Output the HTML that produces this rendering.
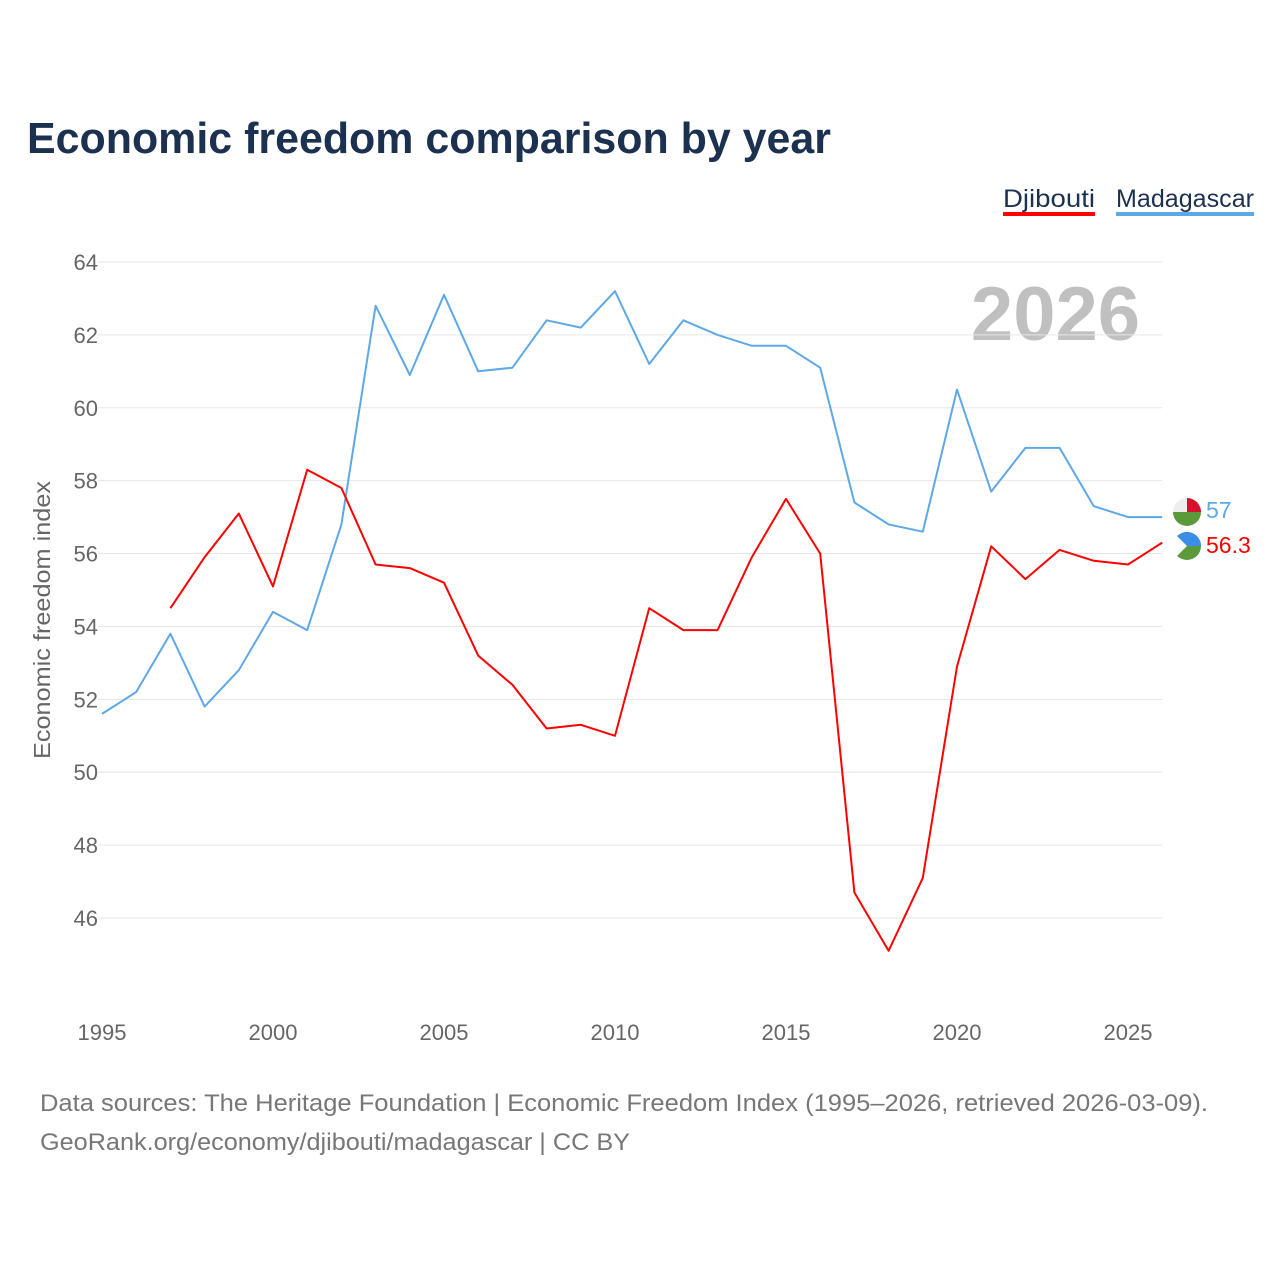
<!DOCTYPE html>
<html><head><meta charset="utf-8">
<style>
body{margin:0;background:#fff;font-family:"Liberation Sans",sans-serif;}
svg text{font-family:"Liberation Sans",sans-serif;}
</style></head>
<body>
<svg id="chart" width="1280" height="1280" viewBox="0 0 1280 1280" xmlns="http://www.w3.org/2000/svg">
<text x="27" y="153" font-size="44" font-weight="bold" fill="#1c3050" textLength="804" lengthAdjust="spacingAndGlyphs">Economic freedom comparison by year</text>
<g>
<text x="1003" y="207" font-size="25" fill="#1c3050" textLength="92" lengthAdjust="spacingAndGlyphs">Djibouti</text>
<rect x="1003" y="212" width="92" height="4" fill="#ff0000"/>
<text x="1116" y="207" font-size="25" fill="#1c3050" textLength="138" lengthAdjust="spacingAndGlyphs">Madagascar</text>
<rect x="1116" y="212" width="138" height="4" fill="#5fa8e8"/>
</g>
<text x="1140" y="340" font-size="76" font-weight="bold" fill="#c0c0c0" text-anchor="end">2026</text>
<g id="grid"></g>
<g id="xticks"></g>
<text transform="translate(50,620) rotate(-90)" font-size="23" fill="#666" text-anchor="middle" textLength="278" lengthAdjust="spacingAndGlyphs">Economic freedom index</text>
<g id="series"></g>
<g>
<circle cx="1187" cy="512" r="14" fill="#eee"/>
<path d="M1187 498 A14 14 0 0 1 1201 512 L1187 512Z" fill="#d6112e"/>
<path d="M1187 512 L1201 512 A14 14 0 0 1 1173 512Z" fill="#5a9a3a"/>
<circle cx="1187" cy="546" r="14" fill="#5a9a3a"/>
<path d="M1173 546 A14 14 0 0 1 1201 546Z" fill="#3a8ee6"/>
<path d="M1173 532 L1187 546 L1173 560Z" fill="#fff"/>
<text x="1206" y="518" font-size="23" fill="#5fa8e8">57</text>
<text x="1206" y="553" font-size="23" fill="#ff0000">56.3</text>
</g>
<text x="40" y="1111" font-size="24" fill="#777" textLength="1168" lengthAdjust="spacingAndGlyphs">Data sources: The Heritage Foundation | Economic Freedom Index (1995–2026, retrieved 2026-03-09).</text>
<text x="40" y="1150" font-size="24" fill="#777" textLength="590" lengthAdjust="spacingAndGlyphs">GeoRank.org/economy/djibouti/madagascar | CC BY</text>
</svg>
<script>
const years=[1995,1996,1997,1998,1999,2000,2001,2002,2003,2004,2005,2006,2007,2008,2009,2010,2011,2012,2013,2014,2015,2016,2017,2018,2019,2020,2021,2022,2023,2024,2025,2026];
const madagascar=[51.6,52.2,53.8,51.8,52.8,54.4,53.9,56.8,62.8,60.9,63.1,61.0,61.1,62.4,62.2,63.2,61.2,62.4,62.0,61.7,61.7,61.1,57.4,56.8,56.6,60.5,57.7,58.9,58.9,57.3,57.0,57.0];
const djibouti=[null,null,54.5,55.9,57.1,55.1,58.3,57.8,55.7,55.6,55.2,53.2,52.4,51.2,51.3,51.0,54.5,53.9,53.9,55.9,57.5,56.0,46.7,45.1,47.1,52.9,56.2,55.3,56.1,55.8,55.7,56.3];
const yTicks=[46,48,50,52,54,56,58,60,62,64];
const xTicks=[1995,2000,2005,2010,2015,2020,2025];
const NS="http://www.w3.org/2000/svg";
const xs=y=>102+(y-1995)*(1128-102)/30;
const ys=v=>262+(64-v)*(918-262)/18;
function mk(tag,attrs,parent){const e=document.createElementNS(NS,tag);for(const k in attrs)e.setAttribute(k,attrs[k]);parent.appendChild(e);return e;}
const grid=document.getElementById('grid');
yTicks.forEach(t=>{
 const l=mk('line',{x1:98,x2:1162,y1:ys(t),y2:ys(t),stroke:'#e6e6e6','stroke-width':1},grid);
 
 
 const tx=mk('text',{x:98,y:ys(t)+8,'font-size':22,fill:'#666','text-anchor':'end'},grid);
 tx.textContent=t;
 
 
});
const xg=document.getElementById('xticks');
xTicks.forEach(t=>{
 const tx=mk('text',{x:xs(t),y:1040,'font-size':22,fill:'#666','text-anchor':'middle'},xg);
 tx.textContent=t;
 
 
});
function line(vals,color,name){
 let d='';let pen=false;
 vals.forEach((v,i)=>{if(v==null){pen=false;return;}d+=(pen?'L':'M')+xs(years[i]).toFixed(1)+' '+ys(v).toFixed(1);pen=true;});
 const p=mk('path',{d:d,fill:'none',stroke:color,'stroke-width':2,'stroke-linejoin':'round'},document.getElementById('series'));
 
 
}
line(madagascar,'#5fa8e8','madagascar-line');
line(djibouti,'#ff0000','djibouti-line');
</script>
</body></html>
